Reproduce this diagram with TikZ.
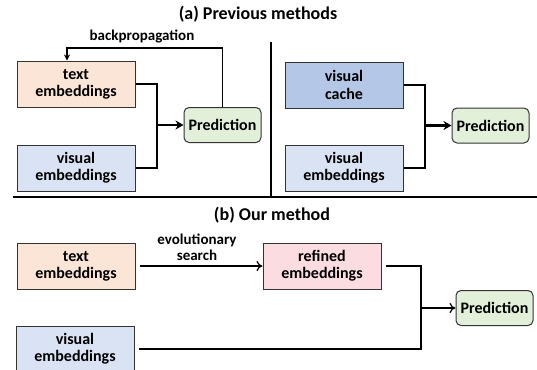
\documentclass[tikz,border=0pt]{standalone}
\usepackage{fontspec}
\setmainfont{Carlito}
\usetikzlibrary{arrows.meta}

\definecolor{peach}{HTML}{FBE5D6}
\definecolor{lightblue}{HTML}{DAE3F3}
\definecolor{cacheblue}{HTML}{B4C7E7}
\definecolor{predgreen}{HTML}{E2F0D9}
\definecolor{refpink}{HTML}{FADCE1}

\tikzset{
  embbox/.style={draw=black!80, line width=0.5pt, minimum width=59pt, minimum height=23pt,
    inner sep=0pt, align=center, font=\bfseries\fontsize{8}{8.6}\selectfont},
  predbox/.style={draw=black!80, line width=0.5pt, fill=predgreen, rounded corners=2.5pt,
    minimum width=38.5pt, minimum height=17.5pt, inner sep=0pt, font=\bfseries\fontsize{8}{9}\selectfont},
  lbl/.style={align=center, font=\bfseries\fontsize{7.5}{8}\selectfont},
  ttl/.style={font=\bfseries\fontsize{9}{10}\selectfont},
  wire/.style={line width=0.6pt},
  fatarrow/.style={line width=1.1pt, -{Stealth[length=4pt,width=4.5pt]}},
  thinarrow/.style={line width=0.6pt, -{To[length=3pt,width=5pt]}}
}

\begin{document}
\begin{tikzpicture}[x=0.5pt,y=-0.5pt]
      \clip (0,0) rectangle (537,370);
      \useasboundingbox (0,0) rectangle (537,370);

      % titles
      \node[ttl] (titleA) at (258,14) {(a) Previous methods};
      \node[ttl] (titleB) at (272,215) {(b) Our method};

      % separators
      \draw[line width=0.8pt] (271,42) -- (271,197);
      \draw[line width=0.8pt] (13,197) -- (537,197);

      % (a) left: prompt tuning
      \node[embbox, fill=peach] (txtA) at (76,84) {text\\embeddings};
      \node[embbox, fill=lightblue] (visA) at (76,168) {visual\\embeddings};
      \node[predbox] (predA) at (222.5,125) {Prediction};
      \coordinate (jA) at (157,125);
      \draw[wire] (txtA.east) -| (jA) |- (visA.east);
      \draw[fatarrow] (jA) -- (predA.west);

      \coordinate (bpA) at (67,48);
      \draw[wire, -{Stealth[length=3pt,width=3pt]}] (predA.north) |- (bpA) -- (bpA |- txtA.north);
      \node[lbl] (bpLbl) at (142,36) {backpropagation};

      % (a) right: cache
      \node[embbox, fill=cacheblue] (cacheA) at (344,85) {visual\\cache};
      \node[embbox, fill=lightblue] (visA2) at (344,168) {visual\\embeddings};
      \node[predbox] (predA2) at (490.5,125.5) {Prediction};
      \coordinate (jA2) at (425,125.5);
      \draw[wire] (cacheA.east) -| (jA2) |- (visA2.east);
      \draw[fatarrow] (jA2) -- (predA2.west);

      % (b) our method
      \node[embbox, fill=peach] (txtB) at (76,266) {text\\embeddings};
      \node[embbox, fill=lightblue] (visB) at (75,349) {visual\\embeddings};
      \node[embbox, fill=refpink] (refB) at (322,266) {refined\\embeddings};
      \node[predbox] (predB) at (494.5,308) {Prediction};

      \draw[thinarrow] ([xshift=2pt]txtB.east) -- (refB.west);
      \node[lbl] (esLbl) at (197,247) {evolutionary\\search};

      \coordinate (jB) at (421,308);
      \draw[wire] ([xshift=2pt]refB.east) -| (jB) |- ([xshift=2pt]visB.east);
      \draw[thinarrow] (jB) -- (predB.west);
\end{tikzpicture}
\end{document}
